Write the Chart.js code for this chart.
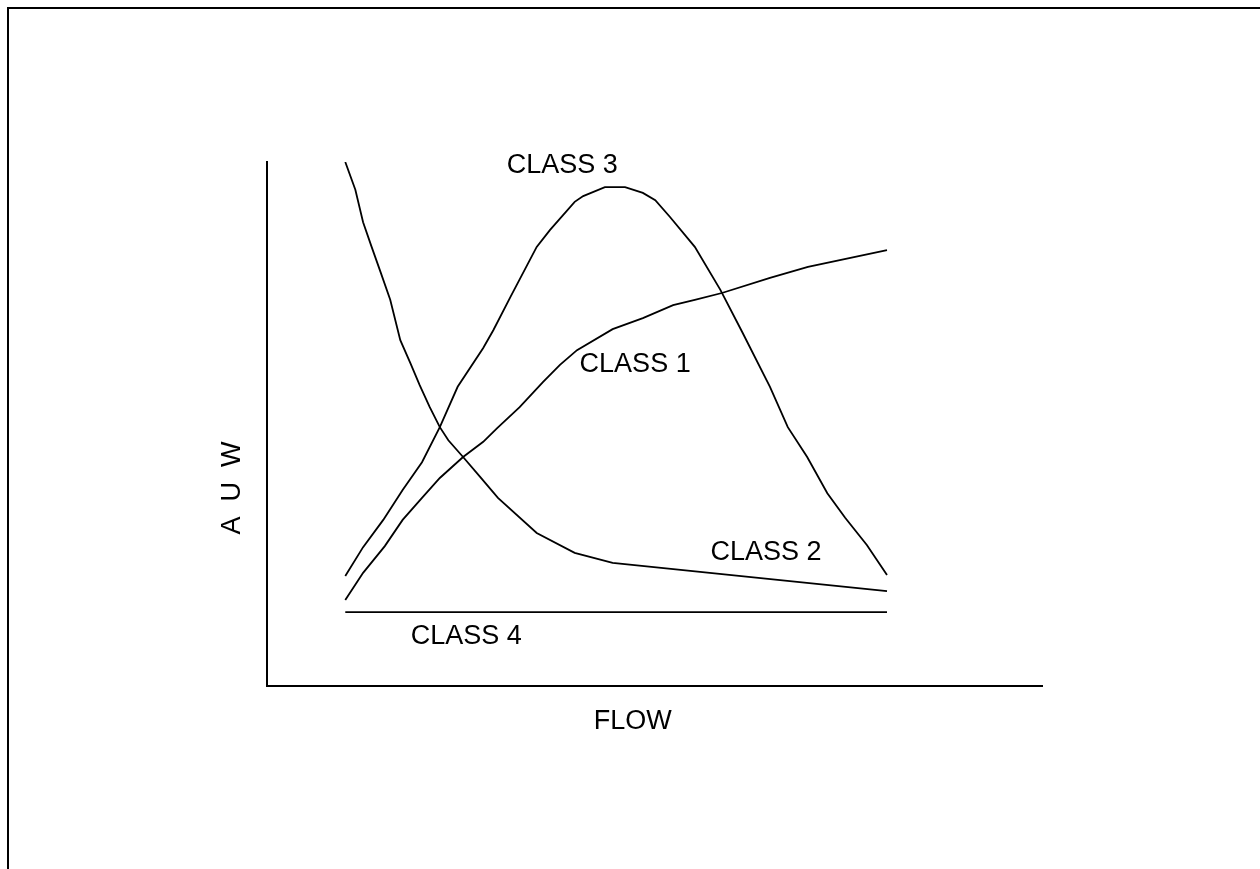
<!DOCTYPE html>
<html>
<head>
<meta charset="utf-8">
<title>AUW vs FLOW</title>
<script src="https://cdn.jsdelivr.net/npm/chart.js@4.4.1/dist/chart.umd.min.js"></script>
<style>
  html, body { margin: 0; padding: 0; background: #fff; overflow: hidden; }
  #wrap { position: relative; width: 1260px; height: 869px; }
</style>
</head>
<body>
<div id="wrap"><canvas id="auwChart"></canvas></div>
<script>
// Curve data (x: flow, y: AUW, arbitrary 0-100 units)
const class1X = [10.1, 12.4, 15.2, 17.5, 20.0, 22.3, 25.3, 27.9, 29.7, 32.6, 35.6, 37.8, 40.0, 44.6, 48.5, 52.4, 55.2, 58.7, 64.9, 69.8, 80.0];
const class1Y = [16.4, 21.6, 26.7, 31.7, 35.9, 39.7, 43.7, 46.6, 49.2, 53.2, 58.0, 61.3, 64.1, 68.1, 70.2, 72.7, 73.7, 75.0, 77.9, 80.0, 83.2];

const class2X = [10.1, 11.4, 12.4, 13.5, 14.7, 15.9, 17.2, 18.5, 19.7, 21.0, 22.3, 23.4, 25.3, 27.5, 29.8, 34.8, 39.7, 44.6, 80.0];
const class2Y = [100, 94.7, 88.5, 83.8, 78.8, 73.7, 66.0, 61.6, 57.4, 53.2, 49.4, 46.9, 43.7, 39.9, 35.9, 29.2, 25.4, 23.5, 18.1];

const class3X = [10.1, 12.4, 15.0, 17.5, 20.0, 22.3, 24.6, 27.9, 29.2, 31.4, 34.8, 36.5, 39.7, 40.8, 43.6, 46.2, 48.5, 50.1, 52.0, 55.2, 58.5, 61.3, 64.9, 67.2, 69.7, 72.3, 74.6, 77.4, 80.0];
const class3Y = [21.0, 26.5, 31.7, 37.4, 42.7, 49.4, 57.1, 64.5, 67.9, 74.2, 83.8, 87.0, 92.4, 93.5, 95.2, 95.2, 94.1, 92.7, 89.5, 83.8, 75.6, 67.6, 57.1, 49.4, 43.7, 36.8, 32.1, 26.9, 21.2];

const class4X = [10.1, 80.0];
const class4Y = [14.1, 14.1];

// Text labels, placed in data units
const labelText = ['CLASS 3', 'CLASS 1', 'CLASS 2', 'CLASS 4', 'FLOW', 'A  U  W'];
const labelX = [38.1, 47.5, 64.4, 25.7, 47.2, -4.5];
const labelY = [99.4, 61.3, 25.4, 9.4, -6.7, 37.8];
const labelRot = [0, 0, 0, 0, 0, -90];

const FONT = '27px "Liberation Sans", Arial, sans-serif';

function toPoints(xs, ys) {
    return xs.map((x, i) => ({ x: x, y: ys[i] }));
}

function curve(label, xs, ys) {
    return {
        label: label,
        data: toPoints(xs, ys),
        borderColor: '#000',
        borderWidth: 1.8,
        pointRadius: 0,
        tension: 0,
        fill: false
    };
}

// Draws the page frame and the free text labels
const sketchPlugin = {
    id: 'sketch',
    beforeDraw(chart) {
        const c = chart.ctx;
        c.save();
        c.strokeStyle = '#000';
        c.lineWidth = 2;
        c.beginPath();
        c.moveTo(8, chart.height);
        c.lineTo(8, 8);
        c.lineTo(chart.width, 8);
        c.stroke();
        c.restore();
    },
    afterDraw(chart) {
        const c = chart.ctx;
        const xs = chart.scales.x;
        const ys = chart.scales.y;
        c.save();
        c.fillStyle = '#000';
        c.font = FONT;
        c.textAlign = 'center';
        c.textBaseline = 'middle';
        labelText.forEach((t, i) => {
            c.save();
            c.translate(xs.getPixelForValue(labelX[i]), ys.getPixelForValue(labelY[i]));
            c.rotate(labelRot[i] * Math.PI / 180);
            c.fillText(t, 0, 0);
            c.restore();
        });
        c.restore();
    }
};

const axisOpts = (min, max) => ({
    type: 'linear',
    min: min,
    max: max,
    grid: { display: true, drawOnChartArea: false, drawTicks: false },
    border: { display: true, color: '#000', width: 2 },
    ticks: { display: false }
});

const ctx = document.getElementById('auwChart').getContext('2d');
const auwChart = new Chart(ctx, {
    type: 'line',
    data: {
        datasets: [
            curve('CLASS 1', class1X, class1Y),
            curve('CLASS 2', class2X, class2Y),
            curve('CLASS 3', class3X, class3Y),
            curve('CLASS 4', class4X, class4Y)
        ]
    },
    options: {
        responsive: true,
        maintainAspectRatio: false,
        devicePixelRatio: 1,
        animation: false,
        layout: { padding: { left: 267, right: 218, top: 162, bottom: 183 } },
        plugins: {
            legend: { display: false },
            tooltip: { enabled: false }
        },
        scales: {
            x: axisOpts(0, 100),
            y: axisOpts(0, 100)
        }
    },
    plugins: [sketchPlugin]
});
</script>
</body>
</html>
